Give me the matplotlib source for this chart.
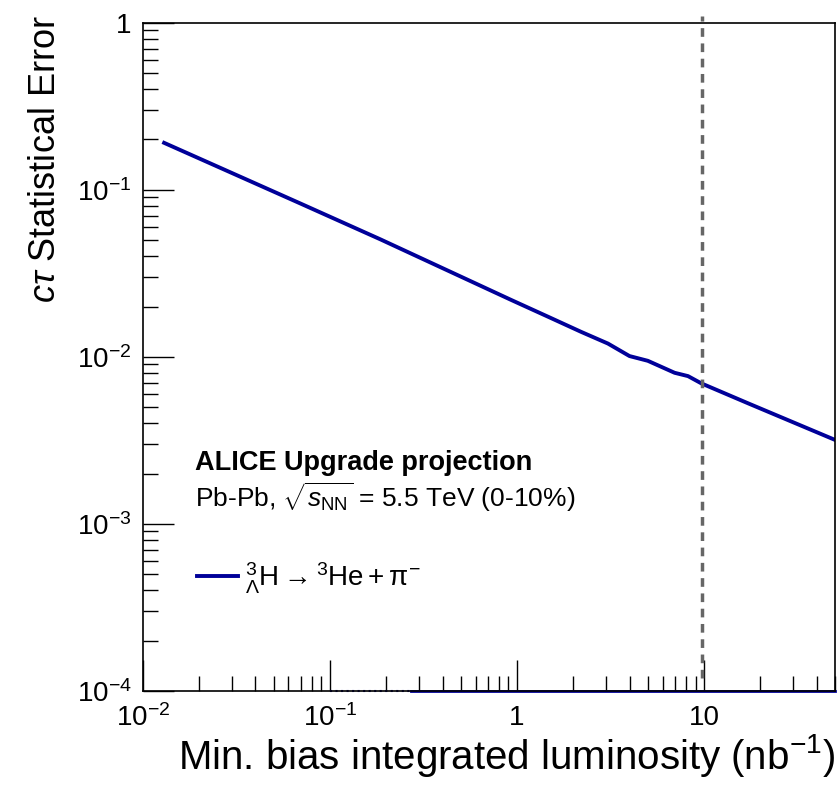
import numpy as np
import matplotlib.pyplot as plt
from matplotlib.ticker import FixedLocator, FixedFormatter, NullFormatter

plt.rcParams['font.family'] = ['Liberation Sans', 'DejaVu Sans']
plt.rcParams['mathtext.fontset'] = 'custom'
plt.rcParams['mathtext.rm'] = 'Liberation Sans'
plt.rcParams['mathtext.it'] = 'Liberation Sans:italic'
plt.rcParams['mathtext.bf'] = 'Liberation Sans:bold'

# luminosity (nb^-1) and c*tau statistical error
lumi = [0.0130, 0.0693, 0.186, 0.93, 1.46, 2.20, 3.06, 3.99, 5.0, 6.95, 8.2, 9.66, 17.2, 50.0]
err = [0.191, 0.0829, 0.0505, 0.0219, 0.0174, 0.0141, 0.0120, 0.0101, 0.00946, 0.00802, 0.00766, 0.00693, 0.00526, 0.00318]

# empty bins lying on the lower edge
empty_dotted = [0.10, 0.27]
empty_solid = [0.27, 50.0]

lumi_target = 9.7

xticks = [1e-2, 1e-1, 1, 10]
xlabels = [r'$10^{-2}$', r'$10^{-1}$', '1', '10']
yticks = [1e-4, 1e-3, 1e-2, 1e-1, 1]
ylabels = [r'$10^{-4}$', r'$10^{-3}$', r'$10^{-2}$', r'$10^{-1}$', '1']

blue = '#000099'

fig = plt.figure(figsize=(8.4, 7.85), dpi=100)
ax = fig.add_axes([0.170, 0.120, 0.824, 0.851])

ax.plot(lumi, err, color=blue, lw=2.8)
ax.plot(empty_dotted, [1e-4, 1e-4], color=blue, lw=1.5, ls=':', clip_on=False)
ax.plot(empty_solid, [1e-4, 1e-4], color=blue, lw=2, clip_on=False)
ax.plot([lumi_target, lumi_target], [1.2e-4, 1.1], color='#666666', lw=2.5,
        ls=(0, (2.5, 1.9)), clip_on=False)

ax.set_xscale('log')
ax.set_yscale('log')
ax.set_xlim(1e-2, 50)
ax.set_ylim(1e-4, 1)

minor = [m * 10.0 ** e for e in range(-5, 3) for m in range(2, 10)]
ax.xaxis.set_major_locator(FixedLocator(xticks))
ax.xaxis.set_major_formatter(FixedFormatter(xlabels))
ax.yaxis.set_major_locator(FixedLocator(yticks))
ax.yaxis.set_major_formatter(FixedFormatter(ylabels))
ax.xaxis.set_minor_locator(FixedLocator(minor))
ax.yaxis.set_minor_locator(FixedLocator(minor))
ax.xaxis.set_minor_formatter(NullFormatter())
ax.yaxis.set_minor_formatter(NullFormatter())

ax.tick_params(which='both', direction='in', top=False, right=False, labelsize=20, width=1.0)
ax.tick_params(which='major', length=22, pad=8)
ax.tick_params(which='minor', length=11)
ax.tick_params(axis='x', pad=10)
for s in ax.spines.values():
    s.set_linewidth(1.2)

ax.set_xlabel(r'Min. bias integrated luminosity (nb$^{-1}$)', fontsize=29, loc='right', labelpad=0)
ax.set_ylabel(r'$c\tau$ Statistical Error', fontsize=26, loc='top')
ax.yaxis.set_label_coords(-0.116, 1.012)

ax.text(0.075, 0.330, 'ALICE Upgrade projection', transform=ax.transAxes,
        fontsize=19.5, fontweight='bold', va='baseline')
ax.text(0.075, 0.275, r'Pb-Pb, $\sqrt{s_{\rm NN}}$ = 5.5 TeV (0-10%)', transform=ax.transAxes,
        fontsize=19, va='baseline')

ax.plot([], [], color=blue, lw=2.8,
        label=r'$^{3}_{\Lambda}\mathrm{H} \rightarrow {}^{3}\mathrm{He} + \mathrm{\pi}^{-}$')
leg = ax.legend(loc='center left', bbox_to_anchor=(0.078, 0.169), frameon=False,
                fontsize=20, handlelength=1.5, handletextpad=0.25,
                borderpad=0, borderaxespad=0)

fig.savefig('out.png', dpi=100)
